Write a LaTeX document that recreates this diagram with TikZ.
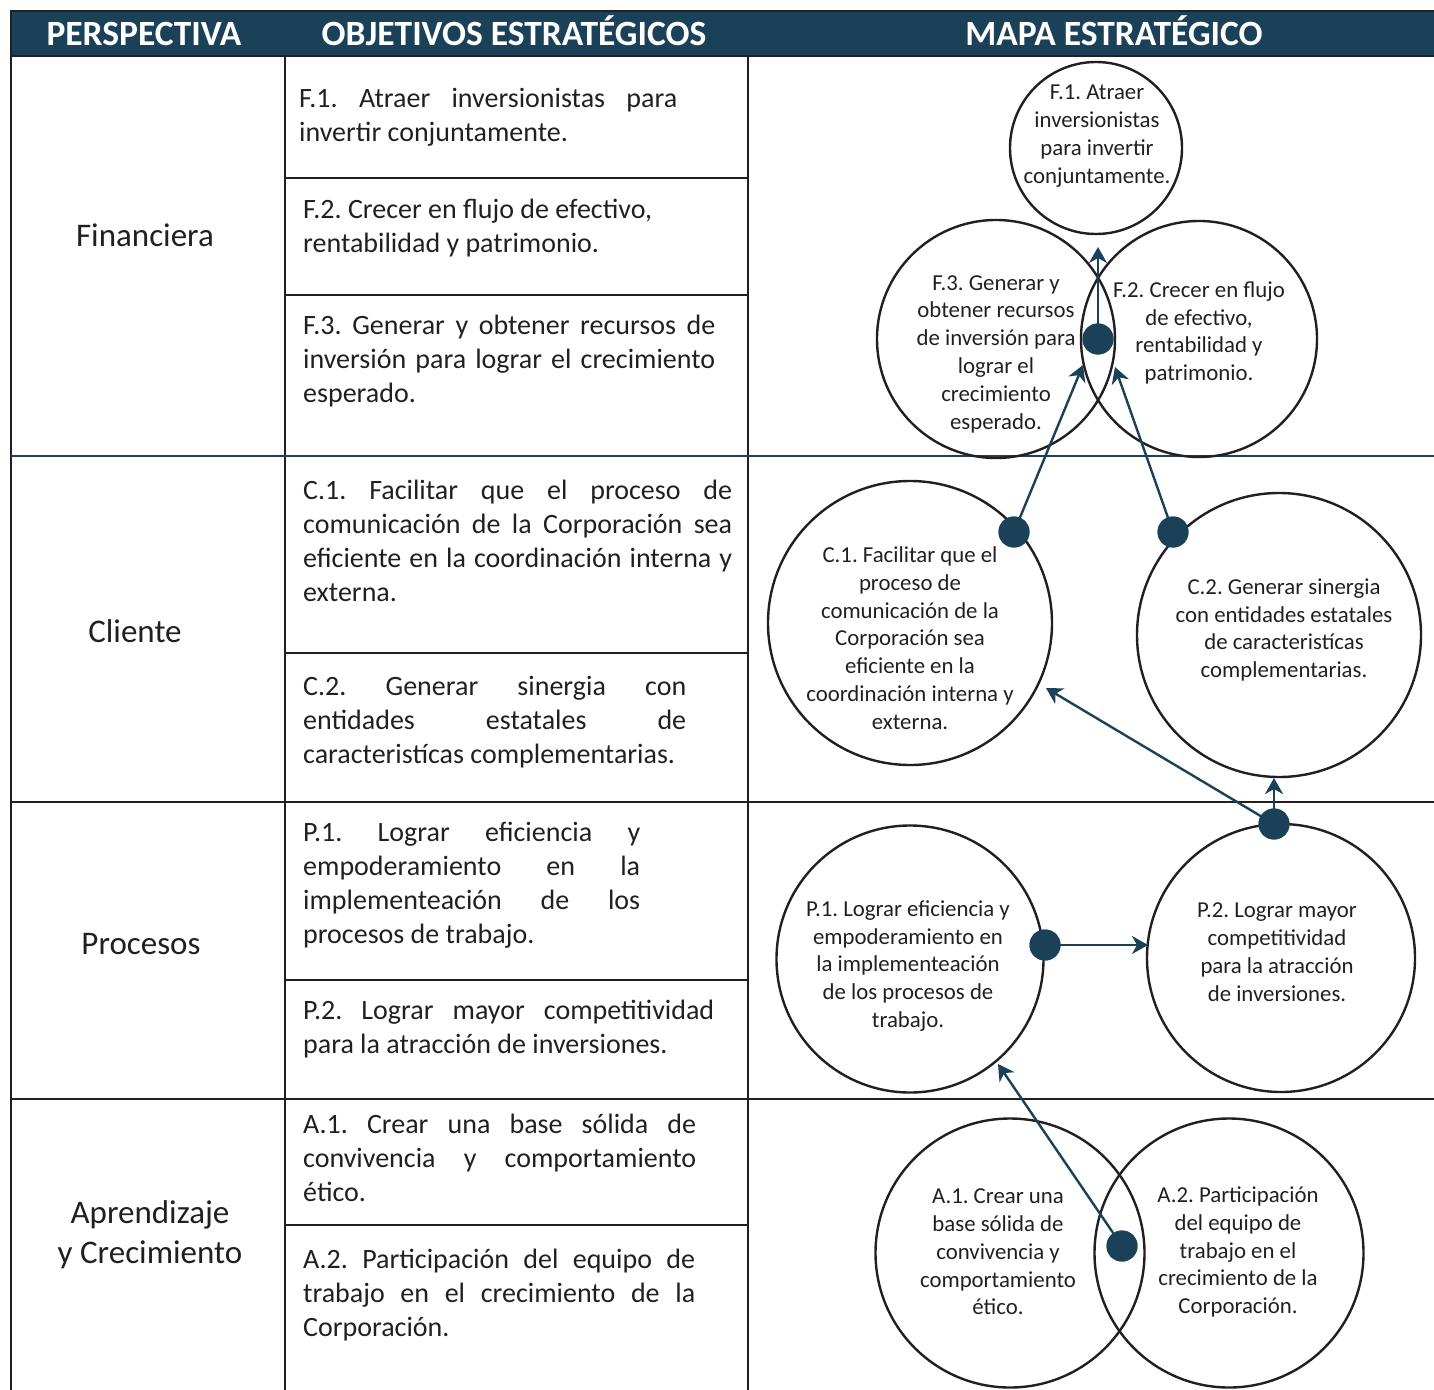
\documentclass[tikz,border=0pt]{standalone}
\usepackage{fontspec}
\setmainfont{Carlito}
\usetikzlibrary{arrows.meta}
\definecolor{navy}{HTML}{1B4159}
\definecolor{ink}{HTML}{231F20}
\newcommand{\jl}[2]{\makebox[#1][s]{#2}}
\newcommand{\cellbox}[1]{\parbox[t]{460pt}{\raggedright #1}}
\frenchspacing
\begin{document}
\begin{tikzpicture}[x=1pt,y=-1pt,
  gridline/.style={draw=ink,line width=2.4pt},
  navyline/.style={draw=navy,line width=2.4pt},
  head/.style={anchor=base,text=white,font=\fontsize{35.5}{42}\selectfont\bfseries,inner sep=0pt},
  persp/.style={anchor=base,text=ink,font=\fontsize{33}{40}\selectfont,inner sep=0pt},
  objtext/.style={anchor=base west,text=ink,font=\fontsize{28}{34}\selectfont\frenchspacing,inner sep=0pt},
  obj/.style={circle,draw=ink,line width=2.4pt,inner sep=0pt,minimum size=#1},
  ctext/.style={align=center,text=ink,font=\fontsize{22.8}{27.8}\selectfont\frenchspacing,inner sep=0pt},
  dot/.style={circle,fill=navy,inner sep=0pt,minimum size=31pt},
  conn/.style={draw=navy,line width=2.4pt,-{Stealth[length=16pt,width=18pt,inset=5pt]}}
]
\useasboundingbox (0,0) rectangle (1434,1389);
\clip (0,0) rectangle (1434,1389);

% header band
\fill[navy] (10,11) rectangle (1440,56);
\draw[gridline] (10,11) -- (1440,11);
\draw[gridline] (10,56) -- (1440,56);
\draw[gridline] (11,11) -- (11,1395);
\node[head] (h1) at (144,46) {PERSPECTIVA};
\node[head] (h2) at (514,46) {OBJETIVOS ESTRATÉGICOS};
\node[head] (h3) at (1114,46) {MAPA ESTRATÉGICO};

% table lines
\draw[gridline] (285,56) -- (285,1395);
\draw[gridline] (748,56) -- (748,1395);
\draw[gridline] (285,178) -- (748,178);
\draw[gridline] (285,295) -- (748,295);
\draw[gridline] (285,653) -- (748,653);
\draw[gridline] (285,980) -- (748,980);
\draw[gridline] (285,1225) -- (748,1225);
\draw[gridline] (11,802) -- (1440,802);
\draw[gridline] (11,1099) -- (1440,1099);
\draw[navyline] (11,456) -- (1440,456);

% perspectives
\node[persp] (pF) at (145,246) {Financiera};
\node[persp] (pC) at (135,642) {Cliente};
\node[persp] (pP) at (141,954) {Procesos};
\node[persp] (pA1) at (150,1223) {Aprendizaje};
\node[persp] (pA2) at (150,1263) {y Crecimiento};

% objectives
\node[objtext] (oF1) at (299,107) {\cellbox{\jl{378pt}{F.1. Atraer inversionistas para}\\invertir conjuntamente.}};
\node[objtext] (oF2) at (303,218) {\cellbox{F.2. Crecer en flujo de efectivo,\\rentabilidad y patrimonio.}};
\node[objtext] (oF3) at (303,334) {\cellbox{\jl{412pt}{F.3. Generar y obtener recursos de}\\\jl{412pt}{inversión para lograr el crecimiento}\\esperado.}};
\node[objtext] (oC1) at (303,499) {\cellbox{\jl{429pt}{C.1. Facilitar que el proceso de}\\\jl{429pt}{comunicación de la Corporación sea}\\\jl{429pt}{eficiente en la coordinación interna y}\\externa.}};
\node[objtext] (oC2) at (303,695) {\cellbox{\jl{383pt}{C.2. Generar sinergia con}\\\jl{383pt}{entidades estatales de}\\caracteristícas complementarias.}};
\node[objtext] (oP1) at (303,841) {\cellbox{\jl{337pt}{P.1. Lograr eficiencia y}\\\jl{337pt}{empoderamiento en la}\\\jl{337pt}{implementeación de los}\\procesos de trabajo.}};
\node[objtext] (oP2) at (303,1019) {\cellbox{\jl{411pt}{P.2. Lograr mayor competitividad}\\para la atracción de inversiones.}};
\node[objtext] (oA1) at (303,1133) {\cellbox{\jl{393pt}{A.1. Crear una base sólida de}\\\jl{393pt}{convivencia y comportamiento}\\ético.}};
\node[objtext] (oA2) at (303,1268) {\cellbox{\jl{392pt}{A.2. Participación del equipo de}\\\jl{392pt}{trabajo en el crecimiento de la}\\Corporación.}};

% strategic map circles
\node[obj=172pt] (F1) at (1096,148) {};
\node[obj=238pt] (F3) at (996,339) {};
\node[obj=236pt] (F2) at (1199,339) {};
\node[obj=284pt] (C1) at (910,623) {};
\node[obj=284pt] (C2) at (1279,635) {};
\node[obj=267pt] (P1) at (910,959) {};
\node[obj=268pt] (P2) at (1281,958) {};
\node[obj=269pt] (A1) at (1010,1253) {};
\node[obj=269pt] (A2) at (1229,1253) {};

\node[ctext] (tF1) at (1097,136) {F.1. Atraer\\inversionistas\\para invertir\\conjuntamente.};
\node[ctext] (tF3) at (996,354) {F.3. Generar y\\obtener recursos\\de inversión para\\lograr el\\crecimiento\\esperado.};
\node[ctext] (tF2) at (1199,333) {F.2. Crecer en flujo\\de efectivo,\\rentabilidad y\\patrimonio.};
\node[ctext] (tC1) at (910,638) {C.1. Facilitar que el\\proceso de\\comunicación de la\\Corporación sea\\eficiente en la\\coordinación interna y\\externa.};
\node[ctext] (tC2) at (1284,630) {C.2. Generar sinergia\\con entidades estatales\\de caracteristícas\\complementarias.};
\node[ctext] (tP1) at (908,966) {P.1. Lograr eficiencia y\\empoderamiento en\\la implementeación\\de los procesos de\\trabajo.};
\node[ctext] (tP2) at (1277,952) {P.2. Lograr mayor\\competitividad\\para la atracción\\de inversiones.};
\node[ctext] (tA1) at (998,1252) {A.1. Crear una\\base sólida de\\convivencia y\\comportamiento\\ético.};
\node[ctext] (tA2) at (1238,1252) {A.2. Participación\\del equipo de\\trabajo en el\\crecimiento de la\\Corporación.};

% connector end points
\coordinate (kF1) at (1098,247);
\coordinate (kF2) at (1083,365);
\coordinate (kF3) at (1115,367);
\coordinate (kC1) at (1046,688);
\coordinate (kC2) at (1274,778);
\coordinate (kP2) at (1148,945);
\coordinate (kP1) at (998,1064);

% dots
\node[dot] (dF) at (1098,339) {};
\node[dot] (dC1) at (1014,532) {};
\node[dot] (dC2) at (1173,532) {};
\node[dot] (dP2) at (1274,824) {};
\node[dot] (dP1) at (1045,945) {};
\node[dot] (dA) at (1122,1246) {};

% connectors
\draw[conn] (dF.center) -- (kF1);
\draw[conn] (dC1.center) -- (kF2);
\draw[conn] (dC2.center) -- (kF3);
\draw[conn] (dP2.center) -- (kC1);
\draw[conn] (dP2.center) -- (kC2);
\draw[conn] (dP1.center) -- (kP2);
\draw[conn] (dA.center) -- (kP1);

% redraw dots on top
\node[dot] at (dF) {};
\node[dot] at (dC1) {};
\node[dot] at (dC2) {};
\node[dot] at (dP2) {};
\node[dot] at (dP1) {};
\node[dot] at (dA) {};
\end{tikzpicture}
\end{document}
